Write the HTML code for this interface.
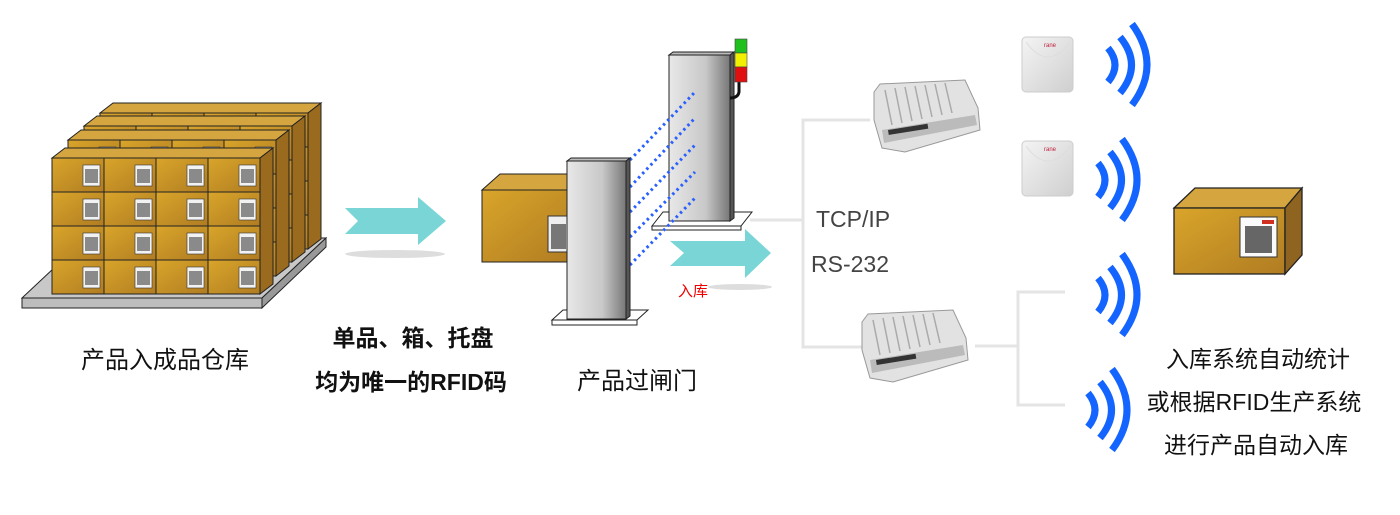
<!DOCTYPE html>
<html><head><meta charset="utf-8"><style>
html,body{margin:0;padding:0;background:#fff;}
svg{display:block;}
text{font-family:"Liberation Sans","Noto Sans CJK SC",sans-serif;}
</style></head><body>
<svg width="1400" height="515" viewBox="0 0 1400 515" xmlns="http://www.w3.org/2000/svg">
<defs>
<linearGradient id="bx" x1="0" y1="0" x2="1" y2="1"><stop offset="0" stop-color="#d9a52a"/><stop offset="1" stop-color="#b07c22"/></linearGradient>
<linearGradient id="pil" x1="0" y1="0" x2="1" y2="0"><stop offset="0" stop-color="#e8e8e8"/><stop offset="0.6" stop-color="#c8c8c8"/><stop offset="1" stop-color="#777"/></linearGradient>
<linearGradient id="ant" x1="0" y1="0" x2="1" y2="1"><stop offset="0" stop-color="#f4f4f4"/><stop offset="1" stop-color="#cfcfcf"/></linearGradient>
<g id="box">
<rect x="0" y="0" width="52" height="34" fill="url(#bx)" stroke="#222" stroke-width="1"/>
<rect x="31" y="7" width="17" height="21" fill="#f2f2f2" stroke="#333" stroke-width="0.6"/>
<rect x="33" y="11" width="13" height="14" fill="#8a8a8a"/>
</g>
<g id="layer">
<use href="#box" x="0" y="0"/><use href="#box" x="52" y="0"/><use href="#box" x="104" y="0"/><use href="#box" x="156" y="0"/>
<use href="#box" x="0" y="34"/><use href="#box" x="52" y="34"/><use href="#box" x="104" y="34"/><use href="#box" x="156" y="34"/>
<use href="#box" x="0" y="68"/><use href="#box" x="52" y="68"/><use href="#box" x="104" y="68"/><use href="#box" x="156" y="68"/>
<use href="#box" x="0" y="102"/><use href="#box" x="52" y="102"/><use href="#box" x="104" y="102"/><use href="#box" x="156" y="102"/>
<polygon points="0,0 13,-10 221,-10 208,0" fill="#d5a540" stroke="#222" stroke-width="1"/>
<polygon points="208,0 221,-10 221,126 208,136" fill="#9a6a1e" stroke="#222" stroke-width="1"/>
</g>
</defs>

<polygon points="22,298 262,298 326,238 86,238" fill="#c8c8c8" stroke="#222"/>
<polygon points="22,298 262,298 262,308 22,308" fill="#bdbdbd" stroke="#222"/>
<polygon points="262,298 326,238 326,247 262,308" fill="#999" stroke="#222"/>
<use href="#layer" x="100" y="113"/>
<use href="#layer" x="84" y="126"/>
<use href="#layer" x="68" y="140"/>
<use href="#layer" x="52" y="158"/>

<ellipse cx="395" cy="254" rx="50" ry="4" fill="#ddd"/>
<polygon points="345,208 418,208 418,197 446,221 418,245 418,234 345,234 358,221" fill="#7ad6d6"/>

<polygon points="482,190 500,174 585,174 567,190" fill="#d5a540" stroke="#222"/>
<rect x="482" y="190" width="90" height="72" fill="url(#bx)" stroke="#222"/>
<rect x="548" y="216" width="20" height="36" fill="#eee" stroke="#333"/>
<rect x="551" y="224" width="15" height="25" fill="#777"/>

<polygon points="652,226 663,212 752,212 741,226" fill="#fff" stroke="#222"/>
<rect x="652" y="226" width="89" height="4" fill="#fff" stroke="#222"/>
<polygon points="669,55 673,52 734,52 730,55" fill="#bbb" stroke="#222"/>
<rect x="669" y="55" width="61" height="166" fill="url(#pil)" stroke="#222"/>
<polygon points="730,55 734,52 734,218 730,221" fill="#555" stroke="#222"/>
<path d="M739,82 L739,92 Q738,98 730,98" stroke="#111" stroke-width="3" fill="none"/>
<rect x="735" y="39" width="12" height="14" fill="#1ec01e" stroke="#444" stroke-width="0.6"/>
<rect x="735" y="53" width="12" height="14" fill="#f0f000" stroke="#444" stroke-width="0.6"/>
<rect x="735" y="67" width="12" height="15" fill="#e01010" stroke="#444" stroke-width="0.6"/>
<g stroke="#2a60ff" stroke-width="3" stroke-dasharray="2.5,3.5" fill="none">
<line x1="630" y1="160" x2="695" y2="92"/>
<line x1="630" y1="187" x2="695" y2="118"/>
<line x1="630" y1="212" x2="695" y2="145"/>
<line x1="630" y1="237" x2="695" y2="172"/>
<line x1="630" y1="265" x2="695" y2="198"/>
</g>
<polygon points="552,320 563,310 648,310 637,320" fill="#fff" stroke="#222"/>
<rect x="552" y="320" width="85" height="5" fill="#fff" stroke="#222"/>
<polygon points="567,161 571,158 630,158 626,161" fill="#bbb" stroke="#222"/>
<rect x="567" y="161" width="59" height="158" fill="url(#pil)" stroke="#222"/>
<polygon points="626,161 630,158 630,316 626,319" fill="#555" stroke="#222"/>

<ellipse cx="740" cy="287" rx="32" ry="3" fill="#ddd"/>
<polygon points="670,241 745,241 745,229 771,253 745,278 745,266 670,266 684,253" fill="#7ad6d6"/>
<text x="678" y="296" font-size="15" fill="#e00">入库</text>

<g stroke="#e4e4e4" stroke-width="3" fill="none">
<polyline points="750,220 803,220"/>
<polyline points="870,120 803,120 803,347 870,347"/>
<polyline points="975,346 1018,346"/>
<polyline points="1065,292 1018,292 1018,405 1065,405"/>
</g>

<g id="rd">
<polygon points="874,92 880,84 965,80 978,108 980,130 905,152 882,148 874,120" fill="#e2e2e2" stroke="#999"/>
<g stroke="#aaa" stroke-width="1.5">
<line x1="885" y1="90" x2="892" y2="125"/><line x1="895" y1="88" x2="902" y2="123"/><line x1="905" y1="87" x2="912" y2="121"/><line x1="915" y1="86" x2="922" y2="119"/><line x1="925" y1="85" x2="932" y2="117"/><line x1="935" y1="84" x2="942" y2="115"/><line x1="945" y1="83" x2="952" y2="113"/>
</g>
<polygon points="882,130 975,115 977,125 884,143" fill="#bbb"/>
<rect x="888" y="130" width="40" height="5" fill="#333" transform="rotate(-9 888 130)"/>
</g>
<use href="#rd" x="-12" y="230"/>

<text x="816" y="227" font-size="23" fill="#444">TCP/IP</text>
<text x="811" y="272" font-size="23" fill="#444">RS-232</text>

<g id="an">
<rect x="1022" y="37" width="51" height="55" rx="4" fill="url(#ant)" stroke="#ccc"/>
<path d="M1026,42 Q1048,72 1070,42" stroke="#ddd" fill="none"/>
<text x="1044" y="47" font-size="6" fill="#c02040">rane</text>
</g>
<use href="#an" x="0" y="104"/>

<g id="wv" stroke="#1464ff" stroke-width="7" fill="none">
<path d="M1108,48 Q1122,65 1108,82"/>
<path d="M1120,37 Q1143,65 1120,93"/>
<path d="M1132,24 Q1162,65 1132,105"/>
</g>
<use href="#wv" x="-10" y="115"/>
<use href="#wv" x="-10" y="230"/>
<use href="#wv" x="-20" y="345"/>

<polygon points="1174,208 1195,188 1302,188 1285,208" fill="#d5a540" stroke="#222" stroke-width="1.3"/>
<rect x="1174" y="208" width="111" height="66" fill="url(#bx)" stroke="#222" stroke-width="1.3"/>
<polygon points="1285,208 1302,188 1302,255 1285,274" fill="#8e6420" stroke="#222" stroke-width="1.3"/>
<rect x="1240" y="217" width="37" height="40" fill="#fafafa" stroke="#333"/>
<rect x="1245" y="226" width="27" height="27" fill="#666"/>
<rect x="1262" y="220" width="12" height="4" fill="#d03020"/>

<text x="165" y="368" font-size="24" fill="#111" text-anchor="middle">产品入成品仓库</text>
<text x="413" y="346" font-size="23" font-weight="bold" fill="#111" text-anchor="middle">单品、箱、托盘</text>
<text x="411" y="390" font-size="23" font-weight="bold" fill="#111" text-anchor="middle">均为唯一的RFID码</text>
<text x="637" y="389" font-size="24" fill="#111" text-anchor="middle">产品过闸门</text>
<text x="1258" y="367" font-size="23" fill="#111" text-anchor="middle">入库系统自动统计</text>
<text x="1254" y="410" font-size="23" fill="#111" text-anchor="middle">或根据RFID生产系统</text>
<text x="1256" y="453" font-size="23" fill="#111" text-anchor="middle">进行产品自动入库</text>
</svg>
</body></html>
